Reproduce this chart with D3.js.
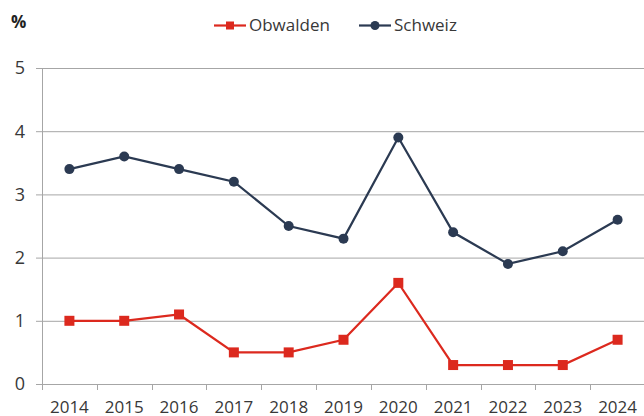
<!DOCTYPE html>
<html>
<head>
<meta charset="utf-8">
<script src="https://cdn.jsdelivr.net/npm/d3@7"></script>
<style>
	body { margin: 0; background: #fff; }
	svg { display: block; font-family: "Open Sans", sans-serif; }
</style>
</head>
<body>
<svg id="chart" width="644" height="416"></svg>
<script>
var years = ["2014", "2015", "2016", "2017", "2018", "2019", "2020", "2021", "2022", "2023", "2024"];
var obwalden = [1.0, 1.0, 1.1, 0.5, 0.5, 0.7, 1.6, 0.3, 0.3, 0.3, 0.7];
var schweiz = [3.4, 3.6, 3.4, 3.2, 2.5, 2.3, 3.9, 2.4, 1.9, 2.1, 2.6];
var yTicks = [0, 1, 2, 3, 4, 5];

var red = "#dc291e";
var navy = "#2b3a52";

var svg = d3.select("#chart");

var x = d3.scaleBand().domain(years).range([42, 645]);
var y = d3.scaleLinear().domain([0, 5]).range([384, 68]);

// gridlines and y labels
var grid = svg.append("g");
grid.selectAll("line")
	.data(yTicks)
	.enter().append("line")
	.attr("x1", 36)
	.attr("x2", 644)
	.attr("y1", function (d) { return y(d) + 0.5; })
	.attr("y2", function (d) { return y(d) + 0.5; })
	.attr("stroke", "#a6a6a6")
	.attr("stroke-width", 1);
grid.selectAll("text")
	.data(yTicks)
	.enter().append("text")
	.attr("x", 25)
	.attr("y", function (d) { return y(d); })
	.attr("dy", "0.35em")
	.attr("text-anchor", "end")
	.attr("font-size", 18)
	.attr("fill", "#383838")
	.text(function (d) { return d; });

// y axis line
svg.append("line")
	.attr("x1", 42.5).attr("x2", 42.5)
	.attr("y1", y(5)).attr("y2", y(0))
	.attr("stroke", "#a6a6a6");

// x axis ticks between categories
var bounds = years.map(function (d) { return x(d); }).concat([x.range()[1]]);
svg.append("g").selectAll("line")
	.data(bounds)
	.enter().append("line")
	.attr("x1", function (d) { return Math.round(d) + 0.5; })
	.attr("x2", function (d) { return Math.round(d) + 0.5; })
	.attr("y1", y(0))
	.attr("y2", y(0) + 6)
	.attr("stroke", "#a6a6a6");

svg.append("g").selectAll("text")
	.data(years)
	.enter().append("text")
	.attr("x", function (d) { return x(d) + x.bandwidth() / 2; })
	.attr("y", 413)
	.attr("text-anchor", "middle")
	.attr("font-size", 17)
	.attr("fill", "#383838")
	.text(function (d) { return d; });

var line = d3.line()
	.x(function (d, i) { return x(years[i]) + x.bandwidth() / 2; })
	.y(function (d) { return y(d); });

function drawSeries(values, color, shape) {
	svg.append("path")
		.datum(values)
		.attr("d", line)
		.attr("fill", "none")
		.attr("stroke", color)
		.attr("stroke-width", 2.2);
	var g = svg.append("g");
	if (shape == "square") {
		g.selectAll("rect")
			.data(values)
			.enter().append("rect")
			.attr("x", function (d, i) { return x(years[i]) + x.bandwidth() / 2 - 5; })
			.attr("y", function (d) { return y(d) - 5; })
			.attr("width", 10)
			.attr("height", 10)
			.attr("fill", color);
	} else {
		g.selectAll("circle")
			.data(values)
			.enter().append("circle")
			.attr("cx", function (d, i) { return x(years[i]) + x.bandwidth() / 2; })
			.attr("cy", function (d) { return y(d); })
			.attr("r", 5)
			.attr("fill", color);
	}
}

drawSeries(obwalden, red, "square");
drawSeries(schweiz, navy, "circle");

// unit label
svg.append("text")
	.attr("x", 11)
	.attr("y", 28)
	.attr("font-size", 17)
	.attr("font-weight", "bold")
	.attr("fill", "#222")
	.text("%");

// legend
var legend = [
	{ name: "Obwalden", color: red, shape: "square", x: 214 },
	{ name: "Schweiz", color: navy, shape: "circle", x: 359 }
];
var lg = svg.append("g");
legend.forEach(function (l) {
	lg.append("line")
		.attr("x1", l.x).attr("x2", l.x + 32)
		.attr("y1", 25.5).attr("y2", 25.5)
		.attr("stroke", l.color)
		.attr("stroke-width", 2.2);
	if (l.shape == "square") {
		lg.append("rect")
			.attr("x", l.x + 12).attr("y", 21.5)
			.attr("width", 8).attr("height", 8)
			.attr("fill", l.color);
	} else {
		lg.append("circle")
			.attr("cx", l.x + 16).attr("cy", 25.5)
			.attr("r", 4.5)
			.attr("fill", l.color);
	}
	lg.append("text")
		.attr("x", l.x + 35)
		.attr("y", 25.5)
		.attr("dy", "0.35em")
		.attr("font-size", 17)
		.attr("fill", "#383838")
		.text(l.name);
});
</script>
</body>
</html>
